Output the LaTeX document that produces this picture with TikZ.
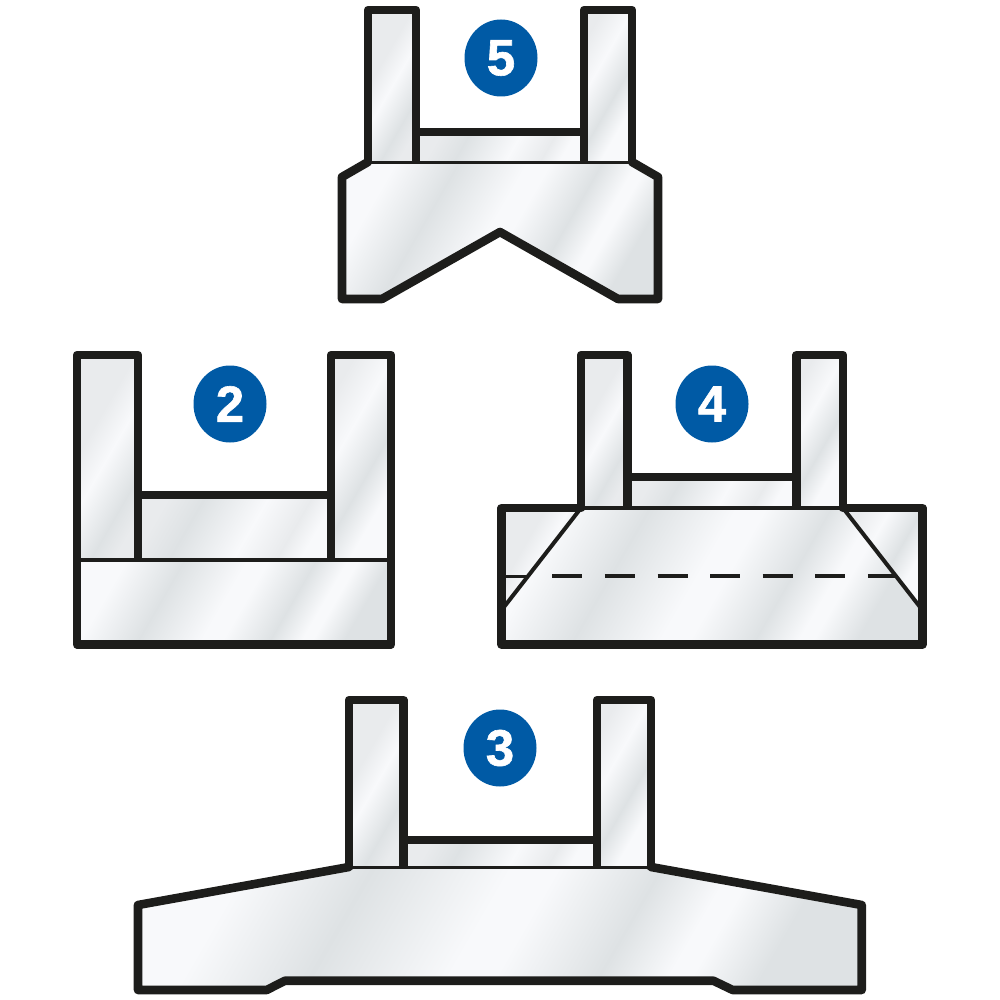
\documentclass[tikz,border=0pt]{standalone}
\usepackage{fontspec}
\setmainfont{Liberation Sans}
\newfontfamily\badgefont[FakeBold=1.2]{Liberation Sans Bold}
\usetikzlibrary{shapes.geometric}
\definecolor{ink}{HTML}{1D1D1B}
\definecolor{badge}{HTML}{005AA5}
\definecolor{gA}{HTML}{DEE2E4}
\definecolor{gB}{HTML}{F8F9FB}
\definecolor{gC}{HTML}{E9EBED}
\pgfdeclarehorizontalshading{metalwide}{100bp}{color(0bp)=(gB); color(25bp)=(gB); color(36bp)=(gA); color(48bp)=(gB); color(52bp)=(gB); color(61bp)=(gA); color(67bp)=(gB); color(69bp)=(gB); color(75bp)=(gA); color(100bp)=(gA)}
\pgfdeclarehorizontalshading{metalpost}{100bp}{color(0bp)=(gC); color(25bp)=(gC); color(38bp)=(gC); color(50bp)=(gB); color(66bp)=(gA); color(75bp)=(gC); color(100bp)=(gC)}
\pgfdeclarehorizontalshading{metalpostb}{100bp}{color(0bp)=(gC); color(25bp)=(gC); color(40bp)=(gB); color(56bp)=(gA); color(68bp)=(gB); color(75bp)=(gB); color(100bp)=(gB)}
\pgfdeclarehorizontalshading{metalbar}{100bp}{color(0bp)=(gC); color(25bp)=(gC); color(36bp)=(gA); color(55bp)=(gB); color(68bp)=(gC); color(75bp)=(gB); color(100bp)=(gB)}
\tikzset{
  wide/.style={shading=metalwide,shading angle=-30},
  postA/.style={shading=metalpost,shading angle=-30},
  postB/.style={shading=metalpostb,shading angle=-30},
  barfill/.style={shading=metalbar,shading angle=-30},
  heavy/.style={draw=ink,line width=8.6pt,line join=round,line cap=butt},
  fine/.style={draw=ink,line width=3.6pt,line cap=butt},
  badgeshape/.style={ellipse,fill=badge,minimum width=73pt,minimum height=77pt,inner sep=0pt,text=white,font=\fontsize{51}{51}\selectfont\badgefont}
}
\begin{document}
\begin{tikzpicture}[x=1pt,y=-1pt]
\useasboundingbox (0,0) rectangle (1000,1000);
% ---- part 5
\shade[postA] (368,10) rectangle (416,162);
\shade[postB] (584,10) rectangle (632,162);
\shade[barfill] (416,132) rectangle (584,162);
\shade[wide] (368,162) -- (342,177) -- (342,299) -- (382,299) -- (500,232) -- (618,299) -- (658,299) -- (658,177) -- (632,162) -- cycle;
\draw[fine] (368,162.5) -- (632,162.5);
\draw[heavy] (368,163) -- (368,10) -- (416,10) -- (416,163);
\draw[heavy] (584,163) -- (584,10) -- (632,10) -- (632,163);
\draw[heavy] (416,132) -- (584,132);
\draw[heavy,line cap=round] (368,162) -- (342,177) -- (342,299) -- (382,299) -- (500,232) -- (618,299) -- (658,299) -- (658,177) -- (632,162);
\node[badgeshape] (b5) at (501,58) {5};
% ---- part 2
\shade[postA] (77,355) rectangle (138,560);
\shade[postB] (331,355) rectangle (391,560);
\shade[barfill] (138,495) rectangle (331,560);
\shade[wide] (77,560) rectangle (391,644.5);
\draw[fine] (77,560) -- (391,560);
\draw[heavy] (331,561) -- (331,355) -- (391,355) -- (391,644.5) -- (77,644.5) -- (77,355) -- (138,355) -- (138,561);
\draw[heavy] (138,495) -- (331,495);
\node[badgeshape] (b2) at (230,404) {2};
% ---- part 4
\shade[postA] (581,355) rectangle (627.5,508);
\shade[postB] (796.5,355) rectangle (843,508);
\shade[barfill] (627.5,477) rectangle (796.5,508);
\shade[postA] (501.5,508) -- (581,508) -- (505,606) -- (501.5,606) -- cycle;
\shade[postB] (843,508) -- (922.5,508) -- (922.5,606) -- (919,606) -- cycle;
\shade[wide] (581,508) -- (843,508) -- (919,606) -- (922.5,606) -- (922.5,644.5) -- (501.5,644.5) -- (501.5,606) -- (505,606) -- cycle;
\draw[fine] (581,508) -- (843,508);
\draw[fine,line width=4pt] (581,508) -- (504,607);
\draw[fine,line width=4pt] (843,508) -- (920,607);
\draw[fine,line width=3pt] (504,576) -- (527,576);
\draw[fine,dash pattern=on 30pt off 22.6pt] (552.3,576) -- (895,576);
\draw[heavy] (581,509) -- (581,355) -- (627.5,355) -- (627.5,509);
\draw[heavy] (796.5,509) -- (796.5,355) -- (843,355) -- (843,509);
\draw[heavy] (627.5,477) -- (796.5,477);
\draw[heavy,line cap=round] (581,508) -- (501.5,508) -- (501.5,644.5) -- (922.5,644.5) -- (922.5,508) -- (843,508);
\node[badgeshape] (b4) at (712,404) {4};
% ---- part 3
\shade[postA] (349,700) rectangle (403.6,867);
\shade[postB] (597,700) rectangle (651,867);
\shade[barfill] (403.6,840) rectangle (597,867);
\shade[wide] (349,867) -- (138,905) -- (138,990) -- (266.7,990) -- (285,980.7) -- (713.3,980.7) -- (732.7,990) -- (861.7,990) -- (861.7,905) -- (651,867) -- cycle;
\draw[fine] (349,867.5) -- (651,867.5);
\draw[heavy] (349,868) -- (349,700) -- (403.6,700) -- (403.6,868);
\draw[heavy] (597,868) -- (597,700) -- (651,700) -- (651,868);
\draw[heavy] (403.6,840) -- (597,840);
\draw[heavy,line cap=round] (349,867) -- (138,905) -- (138,990) -- (266.7,990) -- (285,980.7) -- (713.3,980.7) -- (732.7,990) -- (861.7,990) -- (861.7,905) -- (651,867);
\node[badgeshape] (b3) at (500,748) {3};
\end{tikzpicture}
\end{document}
